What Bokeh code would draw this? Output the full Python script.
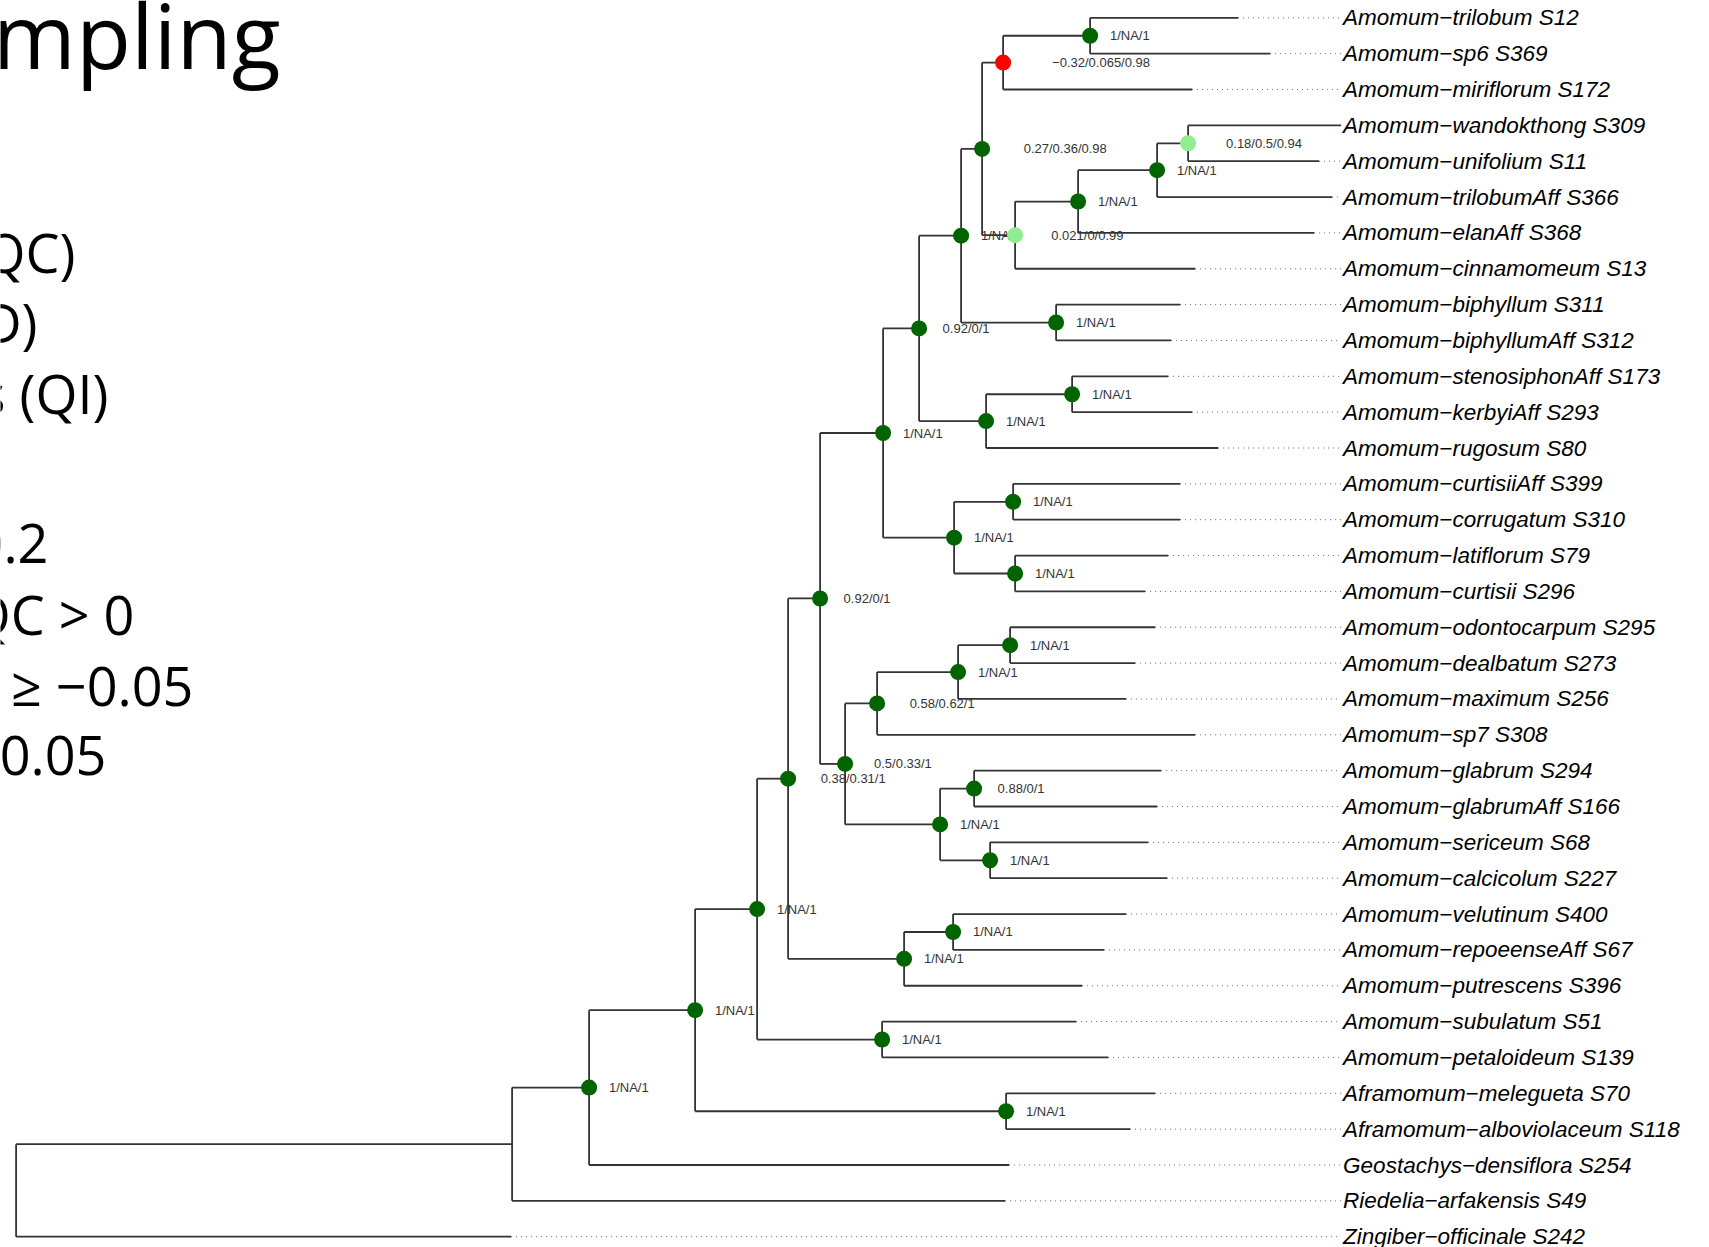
from bokeh.plotting import figure
from bokeh.models import Range1d, ColumnDataSource
from bokeh.core.properties import value
from bokeh.embed import file_html
from bokeh.resources import INLINE

# ---------------- data ----------------
tip_labels = [
    "Amomum−trilobum S12", "Amomum−sp6 S369", "Amomum−miriflorum S172",
    "Amomum−wandokthong S309", "Amomum−unifolium S11", "Amomum−trilobumAff S366",
    "Amomum−elanAff S368", "Amomum−cinnamomeum S13", "Amomum−biphyllum S311",
    "Amomum−biphyllumAff S312", "Amomum−stenosiphonAff S173", "Amomum−kerbyiAff S293",
    "Amomum−rugosum S80", "Amomum−curtisiiAff S399", "Amomum−corrugatum S310",
    "Amomum−latiflorum S79", "Amomum−curtisii S296", "Amomum−odontocarpum S295",
    "Amomum−dealbatum S273", "Amomum−maximum S256", "Amomum−sp7 S308",
    "Amomum−glabrum S294", "Amomum−glabrumAff S166", "Amomum−sericeum S68",
    "Amomum−calcicolum S227", "Amomum−velutinum S400", "Amomum−repoeenseAff S67",
    "Amomum−putrescens S396", "Amomum−subulatum S51", "Amomum−petaloideum S139",
    "Aframomum−melegueta S70", "Aframomum−alboviolaceum S118",
    "Geostachys−densiflora S254", "Riedelia−arfakensis S49", "Zingiber−officinale S242",
]
# cumulative depth of each tip from the root
tip_depth = [
    1.222, 1.254, 1.176, 1.325, 1.303, 1.316, 1.298, 1.179, 1.164, 1.155,
    1.152, 1.176, 1.202, 1.164, 1.164, 1.152, 1.129, 1.139, 1.119, 1.110,
    1.179, 1.145, 1.141, 1.132, 1.151, 1.110, 1.088, 1.066, 1.060, 1.092,
    1.139, 1.114, 0.993, 0.989, 0.495,
]

# internal nodes: children (int = tip index, str = internal node), depth, support QC/QD/QI
node_names = ["root", "GG", "FF", "DD", "BB", "S", "Q", "M", "K", "I", "C", "B", "A",
              "E", "F", "G", "H", "J", "L", "L2", "N", "O", "P", "R", "T", "V", "W",
              "U", "X", "Y", "Z", "AA", "CC", "EE"]
node_children = [
    ("GG", 34), ("FF", 33), ("DD", 32), ("BB", "EE"), ("S", "CC"), ("Q", "Z"),
    ("M", "R"), ("K", "N"), ("I", "L"), ("C", "J"), ("B", "E"), ("A", 2), (0, 1),
    ("F", 7), ("G", 6), ("H", 5), (3, 4), (8, 9), ("L2", 12), (10, 11), ("O", "P"),
    (13, 14), (15, 16), ("T", "U"), ("V", 20), ("W", 19), (17, 18), ("X", "Y"),
    (21, 22), (23, 24), ("AA", 27), (25, 26), (28, 29), (30, 31),
]
node_depth = [
    0.0, 0.496, 0.573, 0.679, 0.741, 0.772, 0.804, 0.867, 0.903, 0.945, 0.966,
    0.987, 1.074, 0.999, 1.062, 1.141, 1.172, 1.040, 0.970, 1.056, 0.938, 0.997,
    0.999, 0.829, 0.861, 0.942, 0.994, 0.924, 0.958, 0.974, 0.888, 0.937, 0.866,
    0.990,
]
node_support = [
    None, None, "1/NA/1", "1/NA/1", "1/NA/1", "0.38/0.31/1", "0.92/0/1", "1/NA/1",
    "0.92/0/1", "1/NA/1", "0.27/0.36/0.98", "−0.32/0.065/0.98", "1/NA/1",
    "0.021/0/0.99", "1/NA/1", "1/NA/1", "0.18/0.5/0.94", "1/NA/1", "1/NA/1",
    "1/NA/1", "1/NA/1", "1/NA/1", "1/NA/1", "0.5/0.33/1", "0.58/0.62/1", "1/NA/1",
    "1/NA/1", "1/NA/1", "0.88/0/1", "1/NA/1", "1/NA/1", "1/NA/1", "1/NA/1", "1/NA/1",
]

slide_texts = ["mpling", "QC)", "D)", "s (QI)", "0.2", "QC > 0", "C ≥ −0.05", "−0.05"]

# ---------------- layout helpers ----------------
X0, XS = 15.6, 1000.0      # px of depth 0, px per depth unit
Y0, YS = 17.3, 35.85       # px of first tip, px per tip


def X(px):
    return (px - X0) / XS


def Y(px):
    return (px - Y0) / YS


idx = {n: i for i, n in enumerate(node_names)}
tip_y = [float(i) for i in range(len(tip_labels))]
node_y = {}


def get_y(c):
    if isinstance(c, int):
        return tip_y[c]
    if c not in node_y:
        node_y[c] = sum(get_y(k) for k in node_children[idx[c]]) / 2.0
    return node_y[c]


def get_x(c):
    return tip_depth[c] if isinstance(c, int) else node_depth[idx[c]]


for n in node_names:
    get_y(n)

# branches
sx0, sy0, sx1, sy1 = [], [], [], []
for n, ch in zip(node_names, node_children):
    nx = node_depth[idx[n]]
    ys = [get_y(c) for c in ch]
    sx0.append(nx); sy0.append(min(ys)); sx1.append(nx); sy1.append(max(ys))
    for c in ch:
        sx0.append(nx); sy0.append(get_y(c)); sx1.append(get_x(c)); sy1.append(get_y(c))

max_depth = max(tip_depth)
dx0, dy0, dx1 = [], [], []
for d, y in zip(tip_depth, tip_y):
    if d < max_depth:
        dx0.append(d); dy0.append(y); dx1.append(max_depth)


def qc_color(s):
    qc = float(s.split("/")[0].replace("−", "-"))
    if qc > 0.2:
        return "#006400"
    if qc > 0:
        return "#90EE90"
    if qc >= -0.05:
        return "#FFA500"
    return "#FF0000"


ARIAL = {"/": 0.278, ".": 0.278, "N": 0.722, "A": 0.667, "−": 0.584}
LFS = 13


def text_w(s):
    return sum(ARIAL.get(ch, 0.556) for ch in s) * LFS


nl = dict(x=[], y=[], t=[], off=[], col=[])
for n, s in zip(node_names, node_support):
    if s is None:
        continue
    nl["x"].append(node_depth[idx[n]])
    nl["y"].append(node_y[n])
    nl["t"].append(s)
    nl["off"].append(0.5 * text_w(s))
    nl["col"].append(qc_color(s))

# ---------------- figure ----------------
W, H = 1709, 1247
p = figure(width=W, height=H, output_backend="svg", toolbar_location=None,
           x_range=Range1d(X(0), X(W)), y_range=Range1d(Y(H), Y(0)),
           x_axis_location=None, y_axis_location=None, min_border=0,
           background_fill_color="white", border_fill_color="white")
p.grid.visible = False
p.outline_line_color = None

p.segment(x0=dx0, y0=dy0, x1=dx1, y1=dy0, line_color="#666666", line_width=1,
          line_dash="1 4")
p.segment(x0=sx0, y0=sy0, x1=sx1, y1=sy1, line_color="#333333", line_width=1.8)

src = ColumnDataSource(nl)
p.text(x="x", y="y", text="t", x_offset="off", source=src, text_font=value("Liberation Sans"),
       text_font_size=f"{LFS}px", text_color="#333333", text_baseline="middle",
       text_align="left")
p.scatter(x="x", y="y", source=src, size=16, fill_color="col", line_color=None)

p.text(x=[max_depth] * len(tip_labels), y=tip_y, text=tip_labels, x_offset=2,
       text_font=value("Liberation Sans"), text_font_style="italic",
       text_font_size="22.5px", text_color="#000000", text_baseline="middle",
       text_align="left")

# slide text (cropped at the left edge in the original)
right_px = [280, 75, 37, 108, 48, 134, 193, 106]
middle_px = [33, 251, 321.6, 392.4, 542.8, 613.7, 684.5, 755.4]
sizes = [90, 54, 54, 54, 54, 54, 54, 54]
for t, rx, cy, fs in zip(slide_texts, right_px, middle_px, sizes):
    p.text(x=[X(rx)], y=[Y(cy)], text=[t], text_font=value("Open Sans"),
           text_font_size=f"{fs}px", text_color="#000000", text_align="right",
           text_baseline="middle")

open("out.html", "w").write(file_html(p, INLINE))
